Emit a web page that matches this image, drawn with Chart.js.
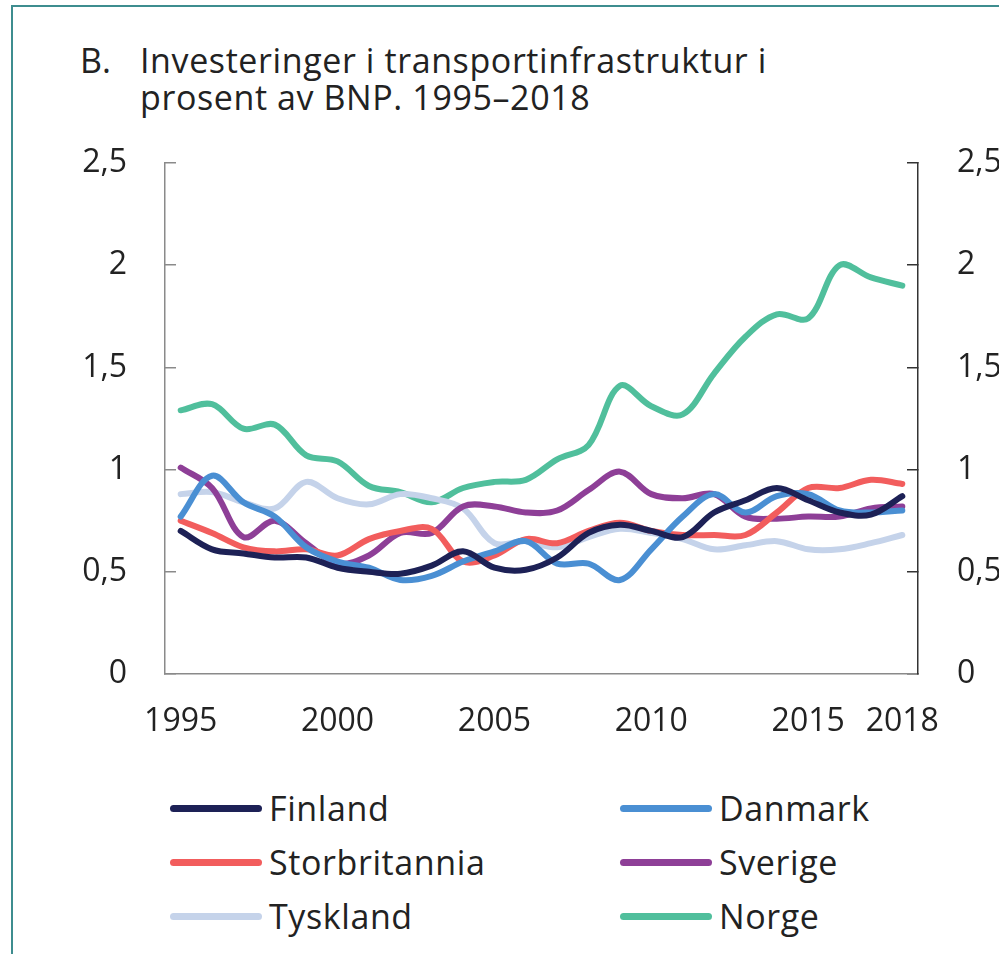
<!DOCTYPE html>
<html>
<head>
<meta charset="utf-8">
<script src="https://cdn.jsdelivr.net/npm/chart.js@4.4.1/dist/chart.umd.min.js"></script>
<style>
html, body { margin: 0; padding: 0; background: #fff; width: 999px; height: 954px; overflow: hidden; }
body { position: relative; font-family: "Open Sans", sans-serif; color: #222; }
#frame { position: absolute; left: 11px; top: 5px; width: 1000px; height: 1000px;
         border-left: 2px solid #3e8d8f; border-top: 2px solid #3e8d8f; }
#title { position: absolute; left: 80px; top: 42px; font-size: 34px; line-height: 37px; }
#title .nr { position: absolute; left: 0; top: 0; }
#title .txt { position: absolute; left: 60px; top: 0; white-space: nowrap; letter-spacing: 0.6px; }
#chartBox { position: absolute; left: 0; top: 130px; }
#legend { position: absolute; left: 0; top: 0; }
.item { position: absolute; display: flex; align-items: center; font-size: 34px; height: 40px; letter-spacing: 0.6px; }
.item .swatch { width: 92px; height: 7px; border-radius: 4px; margin-right: 7px; }
</style>
</head>
<body>
<div id="frame"></div>
<div id="title"><span class="nr">B.</span><span class="txt">Investeringer i transportinfrastruktur i<br>prosent av BNP. 1995–2018</span></div>
<div id="chartBox"><canvas id="lineCanvas" width="1040" height="604"></canvas></div>
<div id="legend"></div>
<script>
const years = ["1995","1996","1997","1998","1999","2000","2001","2002","2003","2004","2005","2006",
               "2007","2008","2009","2010","2011","2012","2013","2014","2015","2016","2017","2018"];
const shownYears = ["1995","2000","2005","2010","2015","2018"];
const yTicks = [0, 0.5, 1, 1.5, 2, 2.5];

const seriesNames = ["Finland","Danmark","Storbritannia","Sverige","Tyskland","Norge"];
const seriesColors = ["#1d2156","#4a8fd3","#f25d5d","#8e3f97","#c5d3ea","#50bf9c"];

const finland       = [0.70,0.61,0.59,0.57,0.57,0.52,0.50,0.49,0.53,0.60,0.52,0.51,0.57,0.69,0.73,0.70,0.67,0.79,0.85,0.91,0.85,0.79,0.78,0.87];
const danmark       = [0.77,0.97,0.84,0.77,0.62,0.55,0.52,0.46,0.48,0.55,0.60,0.65,0.54,0.54,0.46,0.61,0.77,0.88,0.79,0.87,0.88,0.80,0.79,0.80];
const storbritannia = [0.75,0.69,0.62,0.60,0.61,0.58,0.66,0.70,0.71,0.55,0.58,0.66,0.64,0.70,0.74,0.70,0.68,0.68,0.68,0.79,0.91,0.91,0.95,0.93];
const sverige       = [1.01,0.91,0.67,0.75,0.64,0.54,0.58,0.69,0.69,0.82,0.82,0.79,0.80,0.90,0.99,0.88,0.86,0.88,0.77,0.76,0.77,0.77,0.81,0.82];
const tyskland      = [0.88,0.89,0.84,0.81,0.94,0.86,0.83,0.88,0.86,0.81,0.64,0.65,0.62,0.67,0.71,0.69,0.66,0.61,0.63,0.65,0.61,0.61,0.64,0.68];
const norge         = [1.29,1.32,1.20,1.22,1.07,1.04,0.92,0.89,0.84,0.91,0.94,0.95,1.05,1.12,1.41,1.31,1.27,1.47,1.65,1.76,1.74,2.00,1.94,1.90];

const seriesValues = [finland, danmark, storbritannia, sverige, tyskland, norge];

// legend, two columns
const legendBox = document.getElementById("legend");
const colX = [170, 620];
const rowY = [788, 842, 896];
seriesNames.forEach((name, i) => {
    const item = document.createElement("div");
    item.className = "item";
    item.style.left = colX[i % 2] + "px";
    item.style.top = rowY[Math.floor(i / 2)] + "px";
    const sw = document.createElement("span");
    sw.className = "swatch";
    sw.style.background = seriesColors[i];
    const tx = document.createElement("span");
    tx.textContent = name;
    item.appendChild(sw);
    item.appendChild(tx);
    legendBox.appendChild(item);
});

const fmt = v => String(v).replace(".", ",");
const tickFont = { family: "Open Sans", size: 32 };

const yAxis = (pos, borderColor, pad, w) => ({
    type: "linear",
    position: pos,
    min: 0,
    max: 2.5,
    afterBuildTicks: axis => { axis.ticks = yTicks.map(v => ({ value: v })); },
    afterFit: axis => { axis.width = w; axis.paddingTop = 0; axis.paddingBottom = 0; },
    ticks: { callback: v => fmt(v), font: tickFont, color: "#222", padding: pad },
    grid: { drawOnChartArea: false, drawTicks: true, tickLength: -11, color: borderColor, lineWidth: 1.5 },
    border: { display: true, color: borderColor, width: 1.5 }
});

const lineChart = new Chart(document.getElementById("lineCanvas"), {
    type: "line",
    data: {
        labels: years,
        datasets: seriesNames.map((name, i) => ({
            label: name,
            data: seriesValues[i],
            borderColor: seriesColors[i],
            backgroundColor: seriesColors[i],
            borderWidth: 6,
            pointRadius: 0,
            tension: 0.35,
            borderCapStyle: "round",
            borderJoinStyle: "round",
            yAxisID: "y"
        }))
    },
    options: {
        responsive: false,
        animation: false,
        layout: { padding: { top: 33, left: 0, right: 0, bottom: 0 } },
        plugins: { legend: { display: false }, title: { display: false }, tooltip: { enabled: false } },
        scales: {
            x: {
                type: "category",
                offset: true,
                afterFit: axis => { axis.height = 60; axis.paddingLeft = 0; axis.paddingRight = 0; },
                ticks: {
                    autoSkip: false,
                    maxRotation: 0,
                    font: tickFont,
                    color: "#222",
                    padding: 29,
                    callback: (v, i) => shownYears.includes(years[i]) ? years[i] : null
                },
                grid: { display: false, drawTicks: false },
                border: { display: true, color: "#8a8a8a", width: 1.5 }
            },
            y: yAxis("left", "#8a8a8a", 49, 165),
            y2: yAxis("right", "#333333", 50, 122)
        }
    }
});
</script>
</body>
</html>
